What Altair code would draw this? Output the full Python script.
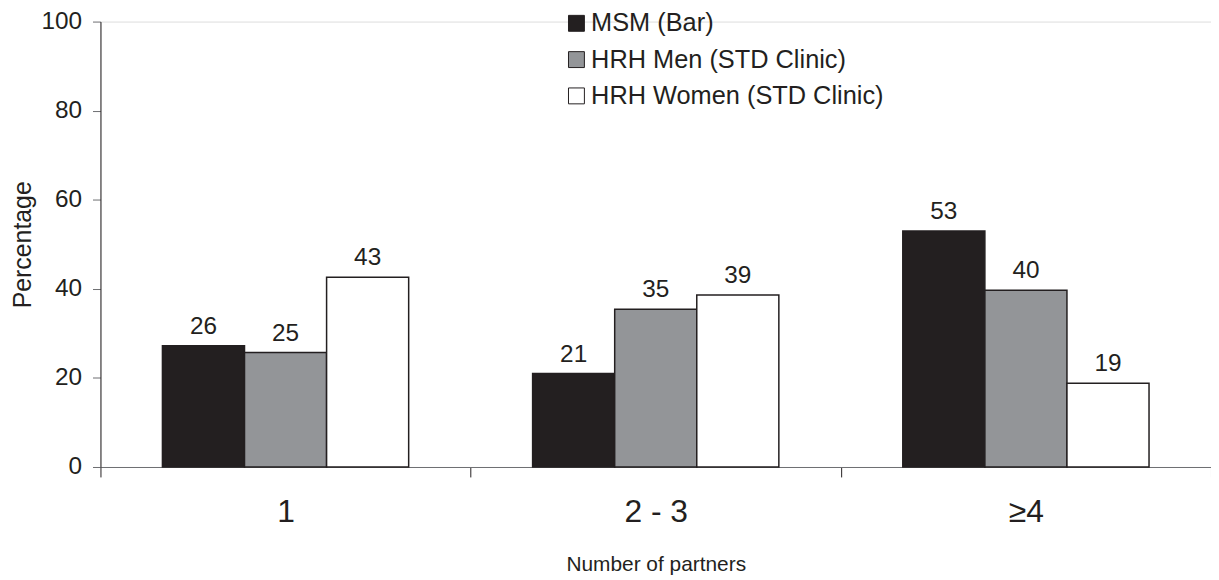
import altair as alt
import pandas as pd

groups = ["1", "2 - 3", "≥4"]
series = ["MSM (Bar)", "HRH Men (STD Clinic)", "HRH Women (STD Clinic)"]
colors = ["#231f20", "#939598", "#ffffff"]

# bar heights as drawn
msm = [27.2, 21.0, 53.0]
hrh_men = [25.7, 35.4, 39.7]
hrh_women = [42.6, 38.6, 18.8]
# printed labels
msm_lab = ["26", "21", "53"]
hrh_men_lab = ["25", "35", "40"]
hrh_women_lab = ["43", "39", "19"]

rows = []
for s, vals, labs in zip(series, [msm, hrh_men, hrh_women], [msm_lab, hrh_men_lab, hrh_women_lab]):
    for g, v, l in zip(groups, vals, labs):
        rows.append({"group": g, "series": s, "value": v, "label": l})
df = pd.DataFrame(rows)

FONT = "Liberation Sans"
INK = "#231f20"

x = alt.X("group:N", sort=groups, title="Number of partners",
          scale=alt.Scale(paddingInner=0, paddingOuter=0),
          axis=alt.Axis(labelAngle=0, tickBand="extent", tickSize=10, labelPadding=20,
                        labelFontSize=32, titleFontSize=21,
                        titleY=104, titleBaseline="alphabetic",
                        domainColor="#6d6e71", tickColor=INK,
                        labelColor=INK, titleColor=INK,
                        labelFont=FONT, titleFont=FONT, titleFontWeight="normal"))
xoff = alt.XOffset("series:N", sort=series,
                   scale=alt.Scale(paddingOuter=0.755, paddingInner=0))
y = alt.Y("value:Q", title="Percentage",
          scale=alt.Scale(domain=[0, 100]),
          axis=alt.Axis(values=[0, 20, 40, 60, 80, 100], grid=False, tickSize=8,
                        labelPadding=11, labelFontSize=24.5, titleFontSize=25,
                        titleX=-70, titleBaseline="alphabetic",
                        domainColor=INK, tickColor="#6d6e71",
                        labelColor=INK, titleColor=INK,
                        labelFont=FONT, titleFont=FONT, titleFontWeight="normal"))

bars = alt.Chart(df).mark_bar(stroke=INK, strokeWidth=1.5, opacity=1).encode(
    x=x, xOffset=xoff, y=y,
    fill=alt.Fill("series:N", sort=series,
                  scale=alt.Scale(domain=series, range=colors),
                  legend=alt.Legend(title=None, orient="none", legendX=466, legendY=-11,
                                    symbolType="square", symbolSize=256,
                                    symbolStrokeColor=INK, symbolStrokeWidth=1,
                                    labelFontSize=25.5, labelFont=FONT, labelColor=INK,
                                    labelLimit=0, labelOffset=2, rowPadding=9.5, padding=0)),
)

text = alt.Chart(df).mark_text(baseline="alphabetic", dy=-12, fontSize=24.5, font=FONT,
                               color=INK).encode(
    x=x, xOffset=xoff, y="value:Q", text="label:N"
)

chart = alt.layer(bars, text).properties(
    width=1117, height=448,
    autosize=alt.AutoSizeParams(type="none"),
    padding={"left": 93, "top": 12, "right": 0, "bottom": 110},
).configure_view(stroke=None).configure(background="white")

chart.save("out.html", embed_options={"renderer": "svg", "actions": False})
